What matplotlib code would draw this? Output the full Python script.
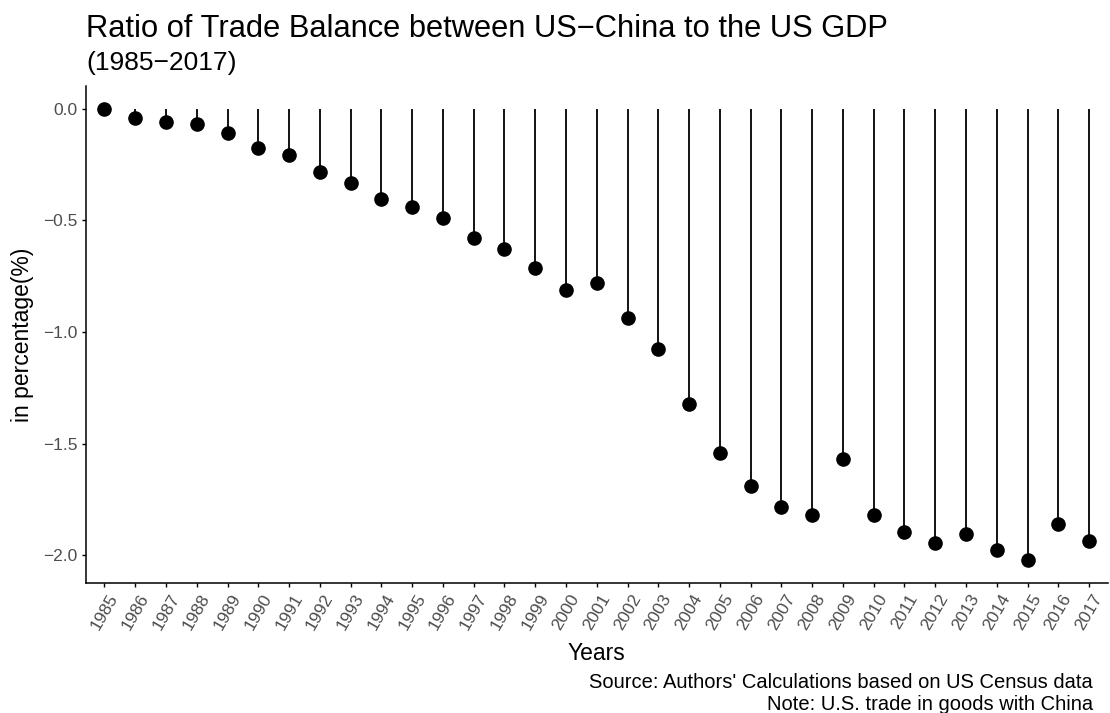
import matplotlib
matplotlib.use("Agg")
import matplotlib.pyplot as plt

plt.rcParams['font.family'] = ['Liberation Sans', 'DejaVu Sans']

years = [str(y) for y in range(1985, 2018)]
ratio = [0.000, -0.040, -0.059, -0.069, -0.111, -0.176, -0.208, -0.282, -0.333, -0.404,
         -0.441, -0.489, -0.578, -0.627, -0.712, -0.813, -0.780, -0.937, -1.077, -1.321,
         -1.542, -1.687, -1.782, -1.818, -1.569, -1.821, -1.897, -1.946, -1.904, -1.974,
         -2.022, -1.858, -1.933]
y_ticks = [0.0, -0.5, -1.0, -1.5, -2.0]

TITLE = "Ratio of Trade Balance between US\u2212China to the US GDP"
SUBTITLE = "(1985\u22122017)"
CAPTION1 = "Source: Authors' Calculations based on US Census data"
CAPTION2 = "Note: U.S. trade in goods with China"


def main():
    W, H = 1110, 713
    fig = plt.figure(figsize=(W / 100, H / 100), dpi=100)
    left, right, top, bottom = 86, 1107.5, 86, 583
    ax = fig.add_axes([left / W, 1 - bottom / H, (right - left) / W, (bottom - top) / H])

    xs = list(range(len(years)))
    ax.vlines(xs, 0, ratio, color='black', linewidth=1.3, zorder=2)
    ax.plot(xs, ratio, 'o', color='black', markersize=9.5, zorder=3)

    lo, hi = min(ratio + [0]), max(ratio + [0])
    span = hi - lo
    ax.set_ylim(lo - 0.05 * span, hi + 0.05 * span)
    ax.set_xlim(-0.6, len(years) - 1 + 0.6)

    ax.set_xticks(xs)
    ax.set_xticklabels(years, rotation=60, ha='center', va='top')
    ax.set_yticks(y_ticks)
    ax.set_yticklabels(["{:.1f}".format(v).replace("-", "\u2212") for v in y_ticks])
    ax.tick_params(axis='both', colors='black', labelcolor='#4D4D4D', labelsize=12.5,
                   length=3, width=1.0, direction='out')
    ax.tick_params(axis='x', pad=3)
    ax.tick_params(axis='y', pad=3)

    for side in ['top', 'right']:
        ax.spines[side].set_visible(False)
    for side in ['left', 'bottom']:
        ax.spines[side].set_linewidth(1.1)
        ax.spines[side].set_color('black')

    fig.text(left / W, 1 - 37 / H, TITLE, fontsize=22.2, ha='left', va='baseline')
    fig.text(left / W, 1 - 70 / H, SUBTITLE, fontsize=19, ha='left', va='baseline')
    fig.text(23 / W, 1 - (top + bottom) / 2 / H, "in percentage(%)", fontsize=16.5,
             rotation=90, ha='center', va='center')
    fig.text((left + right) / 2 / W, 1 - 660 / H, "Years", fontsize=16.5,
             ha='center', va='baseline')
    fig.text(1093 / W, 1 - 688 / H, CAPTION1, fontsize=14.5, ha='right', va='baseline')
    fig.text(1093 / W, 1 - 710 / H, CAPTION2, fontsize=14.5, ha='right', va='baseline')

    fig.savefig("out.png", dpi=100, facecolor='white')


if __name__ == "__main__":
    main()
